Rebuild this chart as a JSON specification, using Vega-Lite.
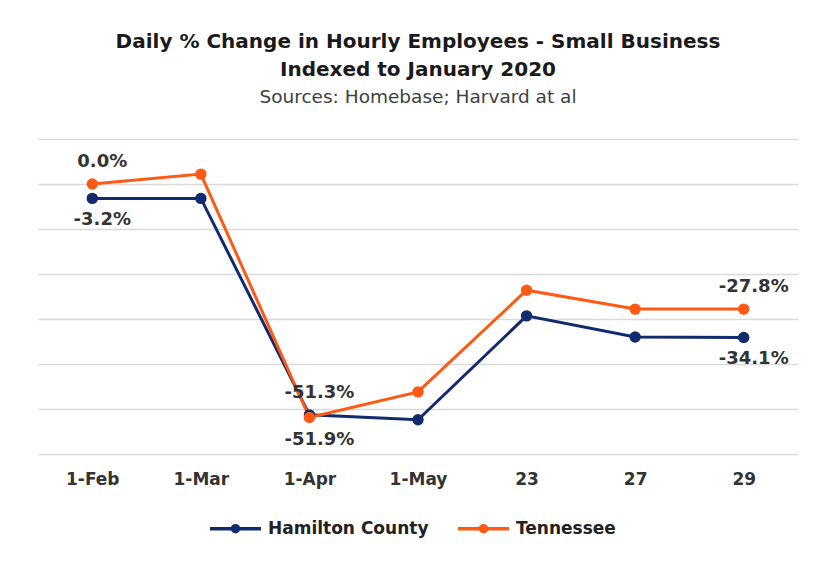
{
  "$schema": "https://vega.github.io/schema/vega-lite/v6.json",
  "width": 760,
  "height": 315,
  "autosize": "none",
  "padding": {"left": 38, "top": 139, "right": 15, "bottom": 111},
  "background": "white",
  "title": {
    "text": ["Daily % Change in Hourly Employees - Small Business", "Indexed to January 2020"],
    "subtitle": "Sources: Homebase; Harvard at al",
    "anchor": "middle",
    "font": "DejaVu Sans",
    "fontSize": 20,
    "fontWeight": "bold",
    "color": "#1a1a1a",
    "lineHeight": 28,
    "subtitleFont": "DejaVu Sans",
    "subtitleFontSize": 18.5,
    "subtitleColor": "#404040",
    "subtitlePadding": 8,
    "offset": 33
  },
  "data": {
    "values": [
      {"date": "1-Feb", "series": "Hamilton County", "value": -3.2, "label": "-3.2%", "pos": "below"},
      {"date": "1-Mar", "series": "Hamilton County", "value": -3.2},
      {"date": "1-Apr", "series": "Hamilton County", "value": -51.3, "label": "-51.3%", "pos": "above"},
      {"date": "1-May", "series": "Hamilton County", "value": -52.4},
      {"date": "23", "series": "Hamilton County", "value": -29.3},
      {"date": "27", "series": "Hamilton County", "value": -34.0},
      {"date": "29", "series": "Hamilton County", "value": -34.1, "label": "-34.1%", "pos": "below"},
      {"date": "1-Feb", "series": "Tennessee", "value": 0.0, "label": "0.0%", "pos": "above"},
      {"date": "1-Mar", "series": "Tennessee", "value": 2.2},
      {"date": "1-Apr", "series": "Tennessee", "value": -51.9, "label": "-51.9%", "pos": "below"},
      {"date": "1-May", "series": "Tennessee", "value": -46.2},
      {"date": "23", "series": "Tennessee", "value": -23.6},
      {"date": "27", "series": "Tennessee", "value": -27.8},
      {"date": "29", "series": "Tennessee", "value": -27.8, "label": "-27.8%", "pos": "above"}
    ]
  },
  "encoding": {
    "x": {
      "field": "date",
      "type": "nominal",
      "sort": ["1-Feb", "1-Mar", "1-Apr", "1-May", "23", "27", "29"],
      "scale": {"type": "point", "padding": 0.5},
      "axis": {
        "title": null,
        "labelAngle": 0,
        "domain": false,
        "ticks": false,
        "labelPadding": 17,
        "labelFont": "DejaVu Sans",
        "labelFontSize": 17,
        "labelFontWeight": "bold",
        "labelColor": "#333333"
      }
    },
    "y": {
      "field": "value",
      "type": "quantitative",
      "scale": {"domain": [-60, 10], "nice": false},
      "axis": {
        "title": null,
        "labels": false,
        "ticks": false,
        "domain": false,
        "values": [10, 0, -10, -20, -30, -40, -50, -60],
        "gridColor": "#d9d9d9",
        "gridWidth": 1.5
      }
    },
    "color": {
      "field": "series",
      "type": "nominal",
      "scale": {"domain": ["Hamilton County", "Tennessee"], "range": ["#122a6e", "#ff5a14"]},
      "legend": {
        "title": null,
        "orient": "none",
        "legendX": 170,
        "legendY": 362,
        "direction": "horizontal",
        "labelFont": "DejaVu Sans",
        "labelFontSize": 17,
        "labelFontWeight": "bold",
        "labelColor": "#222222",
        "labelLimit": 400,
        "symbolType": "M-1,0L1,0M-0.12,0A0.12,0.12 0 1,1 0.12,0A0.12,0.12 0 1,1 -0.12,0",
        "symbolSize": 2600,
        "symbolStrokeWidth": 3.5,
        "columnPadding": 22,
        "labelOffset": 5
      }
    }
  },
  "layer": [
    {"mark": {"type": "line", "strokeWidth": 3}},
    {"mark": {"type": "point", "filled": true, "size": 130, "opacity": 1}},
    {
      "transform": [{"filter": "datum.pos === 'above'"}],
      "mark": {"type": "text", "dy": -22, "dx": 10, "font": "DejaVu Sans", "fontSize": 18, "fontWeight": "bold", "color": "#333333"},
      "encoding": {"text": {"field": "label"}, "color": {"value": "#333333"}}
    },
    {
      "transform": [{"filter": "datum.pos === 'below'"}],
      "mark": {"type": "text", "dy": 22, "dx": 10, "font": "DejaVu Sans", "fontSize": 18, "fontWeight": "bold", "color": "#333333"},
      "encoding": {"text": {"field": "label"}, "color": {"value": "#333333"}}
    }
  ],
  "config": {"view": {"stroke": null}}
}
